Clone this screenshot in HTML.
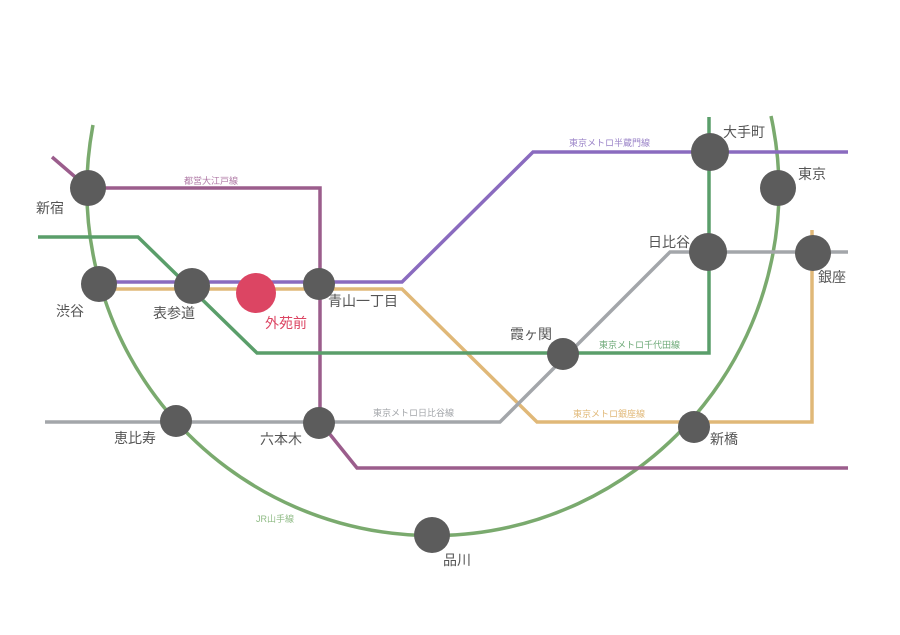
<!DOCTYPE html>
<html><head><meta charset="utf-8"><style>
body{margin:0;background:#fff}
svg{display:block}
text{font-family:"Liberation Sans","Noto Sans CJK JP",sans-serif}
.st{font-size:14px;fill:#555}
.ln{font-size:9px}
</style></head><body>
<svg width="900" height="635" viewBox="0 0 900 635" xmlns="http://www.w3.org/2000/svg">
<rect width="900" height="635" fill="#fff"/>
<g fill="none" stroke-width="3.5" stroke-linejoin="miter">
<path d="M93 125 A346 346 0 1 0 771 116" stroke="#7aaa6e"/>
<path d="M52 157 L88 188 L320 188 L320 422 L357 468 L848 468" stroke="#9b5d8c"/>
<path d="M99 282 L402 282 L533 152 L848 152" stroke="#8a6bbf"/>
<path d="M99 289 L402 289 L537 422 L812 422 L812 230" stroke="#e0b878"/>
<path d="M38 237 L138 237 L257 353 L709 353 L709 117" stroke="#5a9e6a"/>
<path d="M45 422 L500 422 L670 252 L848 252" stroke="#a3a6aa"/>
</g>
<g fill="#5c5c5c">
<circle cx="88" cy="188" r="18"/>
<circle cx="99" cy="284" r="18"/>
<circle cx="192" cy="286" r="18"/>
<circle cx="319" cy="284" r="16"/>
<circle cx="176" cy="421" r="16"/>
<circle cx="319" cy="423" r="16"/>
<circle cx="432" cy="535" r="18"/>
<circle cx="563" cy="354" r="16"/>
<circle cx="694" cy="427" r="16"/>
<circle cx="710" cy="152" r="19"/>
<circle cx="778" cy="188" r="18"/>
<circle cx="708" cy="252" r="19"/>
<circle cx="813" cy="253" r="18"/>
</g>
<circle cx="256" cy="293" r="20" fill="#dc4563"/>
<g class="st">
<text x="36" y="213">新宿</text>
<text x="56" y="316">渋谷</text>
<text x="153" y="318">表参道</text>
<text x="265" y="328" style="fill:#dc4563">外苑前</text>
<text x="328" y="306">青山一丁目</text>
<text x="114" y="443">恵比寿</text>
<text x="260" y="444">六本木</text>
<text x="443" y="565">品川</text>
<text x="510" y="339">霞ヶ関</text>
<text x="710" y="444">新橋</text>
<text x="723" y="137">大手町</text>
<text x="798" y="179">東京</text>
<text x="648" y="247">日比谷</text>
<text x="818" y="282">銀座</text>
</g>
<g class="ln">
<text x="184" y="184" fill="#b07aa6">都営大江戸線</text>
<text x="569" y="146" fill="#9b84c8">東京メトロ半蔵門線</text>
<text x="599" y="348" fill="#6eaa78">東京メトロ千代田線</text>
<text x="373" y="416" fill="#a3a6aa">東京メトロ日比谷線</text>
<text x="573" y="417" fill="#e0b878">東京メトロ銀座線</text>
<text x="256" y="522" fill="#8fbb85">JR山手線</text>
</g>
</svg>
</body></html>
